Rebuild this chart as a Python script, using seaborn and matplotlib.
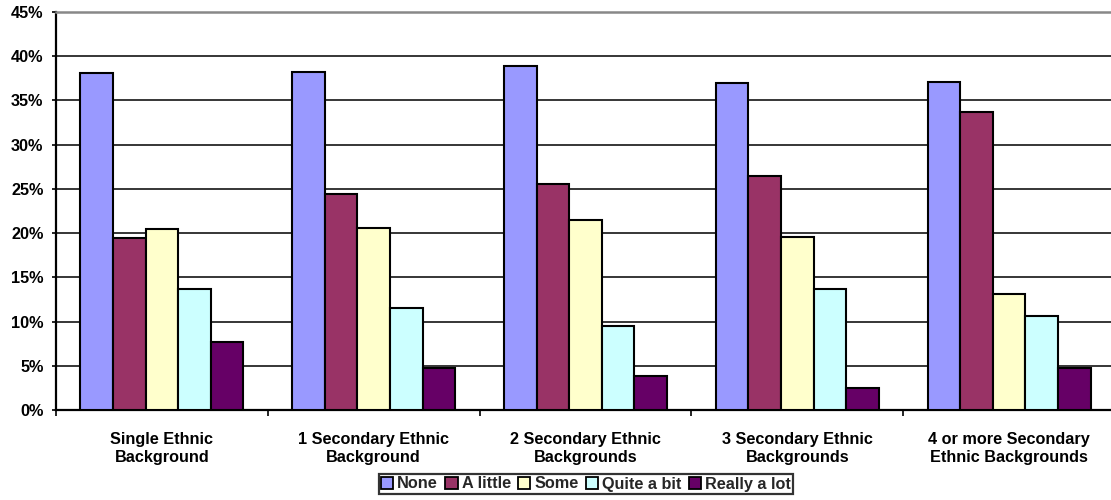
import numpy as np
import pandas as pd
import matplotlib
matplotlib.use("Agg")
import matplotlib.pyplot as plt
from matplotlib.ticker import FixedLocator, PercentFormatter
import seaborn as sns

# Survey responses by number of secondary ethnic backgrounds (percent of respondents)
categories = [
    "Single Ethnic\nBackground",
    "1 Secondary Ethnic\nBackground",
    "2 Secondary Ethnic\nBackgrounds",
    "3 Secondary Ethnic\nBackgrounds",
    "4 or more Secondary\nEthnic Backgrounds",
]
responses = ["None", "A little", "Some", "Quite a bit", "Really a lot"]

none_pct = [38.1, 38.2, 38.9, 37.0, 37.1]
a_little_pct = [19.5, 24.4, 25.6, 26.5, 33.7]
some_pct = [20.5, 20.6, 21.5, 19.6, 13.1]
quite_a_bit_pct = [13.7, 11.5, 9.5, 13.7, 10.6]
really_a_lot_pct = [7.7, 4.7, 3.9, 2.5, 4.8]

colors = ["#9999FF", "#993366", "#FFFFCC", "#CCFFFF", "#660066"]

series = [none_pct, a_little_pct, some_pct, quite_a_bit_pct, really_a_lot_pct]
df = pd.DataFrame(
    [
        {"group": cat, "response": resp, "pct": vals[i]}
        for resp, vals in zip(responses, series)
        for i, cat in enumerate(categories)
    ]
)

sns.set_theme(style="white")
plt.rcParams["font.family"] = ["Liberation Sans", "DejaVu Sans"]
plt.rcParams["font.weight"] = "bold"

fig = plt.figure(figsize=(11.11, 5.0), dpi=100)
ax = fig.add_axes([56 / 1111, 90 / 500, 1059 / 1111, 398 / 500])

sns.barplot(
    data=df, x="group", y="pct", hue="response",
    order=categories, hue_order=responses,
    palette=colors, width=0.77, gap=0,
    edgecolor="black", linewidth=1.5, saturation=1,
    legend=True, ax=ax, zorder=3,
)

ax.set_ylim(0, 45)
ax.set_xlim(-0.5, 4.5)
ax.set_yticks(np.arange(0, 46, 5))
ax.yaxis.set_major_formatter(PercentFormatter(decimals=0))
ax.set_xlabel("")
ax.set_ylabel("")

# horizontal gridlines
for v in np.arange(5, 41, 5):
    ax.axhline(v, color="black", lw=1.1, zorder=1)

ax.spines["right"].set_visible(False)
ax.spines["top"].set_color("#888888")
ax.spines["top"].set_linewidth(1.8)
for s in ["left", "bottom"]:
    ax.spines[s].set_color("black")
    ax.spines[s].set_linewidth(1.6)

ax.tick_params(axis="y", which="major", left=True, length=3, width=1.2,
               color="black", pad=6, labelsize=11.7, labelcolor="black")
ax.tick_params(axis="x", which="major", bottom=False, length=0, pad=16,
               labelsize=11.7, labelcolor="black")
ax.xaxis.set_minor_locator(FixedLocator(np.arange(-0.5, 5.0, 1.0)))
ax.tick_params(axis="x", which="minor", bottom=True, length=4, width=1.2,
               color="black")
for lbl in ax.get_xticklabels() + ax.get_yticklabels():
    lbl.set_fontweight("bold")

handles, labels = ax.get_legend_handles_labels()
ax.get_legend().remove()
leg = fig.legend(
    handles, labels, loc="center", bbox_to_anchor=(586 / 1111, 16 / 500),
    ncol=5, frameon=True, fancybox=False, edgecolor="black",
    handlelength=0.75, handleheight=0.75, handletextpad=0.25,
    columnspacing=0.45, borderpad=0.15, borderaxespad=0,
    prop={"weight": "bold", "size": 11.7},
)
leg.get_frame().set_linewidth(1.6)
for h in leg.legend_handles:
    h.set_edgecolor("black")
    h.set_linewidth(1.3)

fig.savefig("out.png", dpi=100)
